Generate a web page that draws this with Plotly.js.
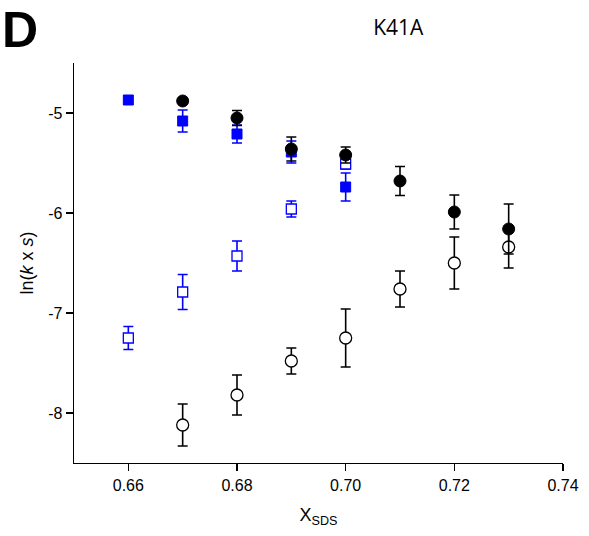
<!DOCTYPE html>
<html>
<head>
<meta charset="utf-8">
<script src="https://cdn.plot.ly/plotly-3.0.1.min.js"></script>
<style>html,body{margin:0;padding:0;background:#fff;}#chart{width:589px;height:536px;}</style>
</head>
<body>
<div id="chart"></div>
<script>
// X_SDS values
const xBlue = [0.66, 0.67, 0.68, 0.69, 0.70];
const xBlack = [0.67, 0.68, 0.69, 0.70, 0.71, 0.72, 0.73];

// Blue filled squares
const blueFilledY = [-4.87, -5.08, -5.21, -5.39, -5.74];
const blueFilledErr = [0.04, 0.11, 0.09, 0.11, 0.14];

// Blue open squares
const blueOpenY = [-7.25, -6.79, -6.43, -5.96, -5.51];
const blueOpenErr = [0.115, 0.175, 0.15, 0.08, 0.05];

// Black open circles
const blackOpenY = [-8.12, -7.82, -7.48, -7.25, -6.76, -6.50, -6.34];
const blackOpenErr = [0.21, 0.2, 0.13, 0.29, 0.18, 0.26, 0.21];

// Black filled circles
const blackFilledY = [-4.88, -5.05, -5.36, -5.42, -5.68, -5.99, -6.16];
const blackFilledErr = [0.02, 0.075, 0.12, 0.08, 0.145, 0.17, 0.25];

const xTicks = [0.66, 0.68, 0.70, 0.72, 0.74];
const xTickText = ['0.66', '0.68', '0.70', '0.72', '0.74'];
const yTicks = [-8, -7, -6, -5];
const yTickText = ['-8', '-7', '-6', '-5'];

function errBar(arr, color) {
  return {type: 'data', array: arr, visible: true, color: color, thickness: 1.6, width: 5};
}

const traces = [
  {x: xBlue, y: blueFilledY, mode: 'markers', type: 'scatter',
   marker: {symbol: 'square', size: 10, color: '#0000ff', line: {color: '#0000ff', width: 1}},
   error_y: errBar(blueFilledErr, '#0000ff')},
  {x: xBlue, y: blueOpenY, mode: 'markers', type: 'scatter',
   marker: {symbol: 'square', size: 10, color: '#ffffff', line: {color: '#0000ff', width: 1.3}},
   error_y: errBar(blueOpenErr, '#0000ff')},
  {x: xBlack, y: blackOpenY, mode: 'markers', type: 'scatter',
   marker: {symbol: 'circle', size: 12, color: '#ffffff', line: {color: '#000000', width: 1.3}},
   error_y: errBar(blackOpenErr, '#000000')},
  {x: xBlack, y: blackFilledY, mode: 'markers', type: 'scatter',
   marker: {symbol: 'circle', size: 12, color: '#000000', line: {color: '#000000', width: 1}},
   error_y: errBar(blackFilledErr, '#000000')}
];

const layout = {
  width: 589, height: 536,
  margin: {l: 74, r: 26, t: 63, b: 73},
  paper_bgcolor: '#ffffff', plot_bgcolor: '#ffffff',
  showlegend: false,
  font: {family: 'Liberation Sans, Arial, sans-serif', color: '#000', size: 16},
  title: {text: 'K41A', font: {family: 'Open Sans, sans-serif', size: 21, color: '#000'},
          x: 0.663, xref: 'paper', xanchor: 'center', y: 0.948, yref: 'container', yanchor: 'middle'},
  xaxis: {
    range: [0.65, 0.74], showgrid: false, zeroline: false,
    showline: true, linecolor: '#000', linewidth: 1.3,
    ticks: 'outside', ticklen: 7, tickwidth: 1.3, tickcolor: '#000',
    tickvals: xTicks, ticktext: xTickText,
    tickfont: {size: 16},
    title: {text: 'X<sub>SDS</sub>', font: {size: 18}, standoff: 16}
  },
  yaxis: {
    range: [-8.5, -4.5], showgrid: false, zeroline: false,
    showline: true, linecolor: '#000', linewidth: 1.3,
    ticks: 'outside', ticklen: 7, tickwidth: 1.3, tickcolor: '#000',
    tickvals: yTicks, ticktext: yTickText,
    tickfont: {size: 16},
    title: {text: 'ln(<i>k</i> x <i>s</i>)', font: {size: 18}, standoff: 10}
  },
  annotations: [
    {text: '<b>D</b>', xref: 'paper', yref: 'paper', x: -0.152, y: 1.082, xanchor: 'left', yanchor: 'middle',
     showarrow: false, font: {family: 'Liberation Sans, Arial, sans-serif', size: 50, color: '#000'}}
  ]
};

Plotly.newPlot('chart', traces, layout, {displayModeBar: false, staticPlot: true});
</script>
</body>
</html>
